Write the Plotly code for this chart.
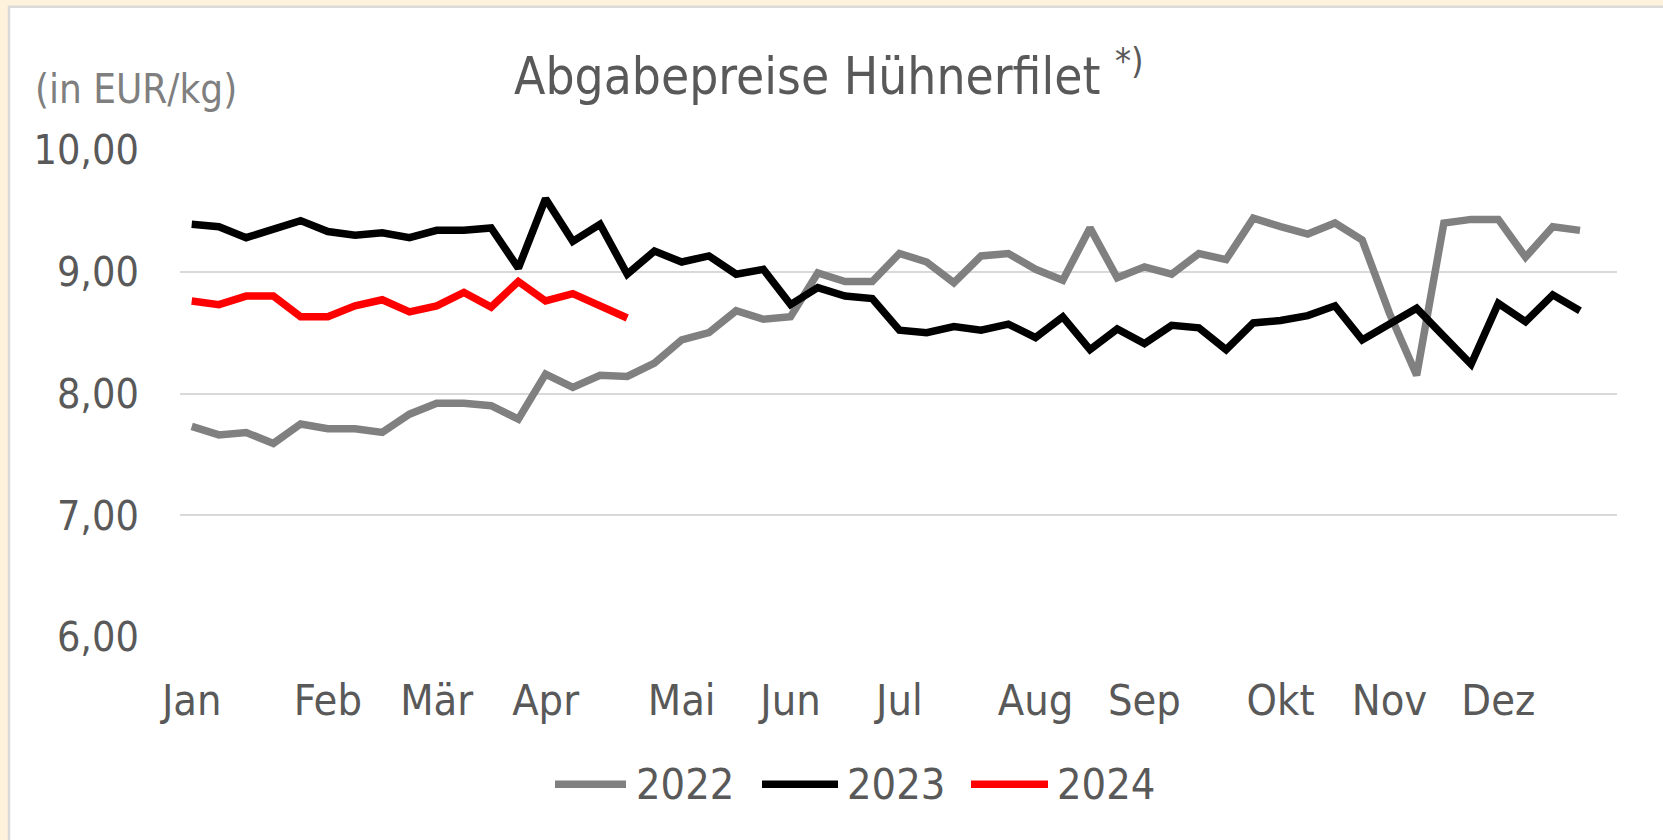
import plotly.graph_objects as go

weeks = list(range(1, 53))
month_tick_weeks = [1, 6, 10, 14, 19, 23, 27, 32, 36, 41, 45, 49]
month_labels = ["Jan", "Feb", "Mär", "Apr", "Mai", "Jun", "Jul", "Aug", "Sep", "Okt", "Nov", "Dez"]

prices_2022 = [7.73, 7.66, 7.68, 7.59, 7.75, 7.71, 7.71, 7.68, 7.83, 7.92, 7.92, 7.90, 7.79,
               8.16, 8.05, 8.15, 8.14, 8.25, 8.44, 8.50, 8.68, 8.61, 8.63, 8.99, 8.92, 8.92,
               9.15, 9.08, 8.91, 9.13, 9.15, 9.02, 8.93, 9.36, 8.95, 9.04, 8.98, 9.15, 9.10,
               9.44, 9.37, 9.31, 9.40, 9.26, 8.66, 8.15, 9.40, 9.43, 9.43, 9.12, 9.37, 9.34]
prices_2023 = [9.39, 9.37, 9.28, 9.35, 9.42, 9.33, 9.30, 9.32, 9.28, 9.34, 9.34, 9.36, 9.03,
               9.60, 9.25, 9.39, 8.98, 9.17, 9.08, 9.13, 8.98, 9.02, 8.73, 8.87, 8.80, 8.78,
               8.52, 8.50, 8.55, 8.52, 8.57, 8.46, 8.63, 8.36, 8.53, 8.41, 8.56, 8.54, 8.36,
               8.58, 8.60, 8.64, 8.72, 8.44, 8.57, 8.70, 8.47, 8.24, 8.74, 8.59, 8.81, 8.68]
prices_2024 = [8.76, 8.73, 8.80, 8.80, 8.63, 8.63, 8.72, 8.77, 8.67, 8.72, 8.83, 8.71, 8.92,
               8.76, 8.82, 8.72, 8.62]

series_names = ["2022", "2023", "2024"]
series_values = [prices_2022, prices_2023, prices_2024]
series_colors = ["#808080", "#000000", "#FF0000"]

FONT = "DejaVu Sans Condensed, Liberation Sans Narrow, sans-serif"
TXT = "#595959"

W, H = 1663, 840
L, R, T, B = 180, 1617, 149.5, 637.4

def px_x(p):
    return (p - L) / (R - L)

def px_y(p):
    return (B - p) / (B - T)

fig = go.Figure()
for name, vals, col in zip(series_names, series_values, series_colors):
    fig.add_trace(go.Scatter(
        x=weeks[:len(vals)], y=vals, name=name, mode="lines",
        line=dict(color=col, width=7.5, shape="linear"), showlegend=False,
    ))

# custom legend (long line samples like the reference)
legend_line_x = [(555, 626), (762, 838), (971, 1048)]
legend_text_x = [634, 845, 1055]
legend_y = 785
shapes = [dict(type="rect", xref="paper", yref="paper", layer="below",
               x0=px_x(9), x1=px_x(1700), y0=px_y(880), y1=px_y(6),
               fillcolor="#FFFFFF", line=dict(color="#D9D9D9", width=2.5))]
annotations = [
    dict(text="Abgabepreise Hühnerfilet <sup>*)</sup>", xref="paper", yref="paper",
         x=px_x(829), y=px_y(72), xanchor="center", yanchor="middle", showarrow=False,
         font=dict(size=51, color=TXT, family=FONT)),
    dict(text="(in EUR/kg)", xref="paper", yref="paper",
         x=px_x(33), y=px_y(88), xanchor="left", yanchor="middle", showarrow=False,
         font=dict(size=40, color="#7F7F7F", family=FONT)),
]
for name, col, (lx0, lx1), tx in zip(series_names, series_colors, legend_line_x, legend_text_x):
    shapes.append(dict(type="line", xref="paper", yref="paper",
                       x0=px_x(lx0), x1=px_x(lx1), y0=px_y(legend_y), y1=px_y(legend_y),
                       line=dict(color=col, width=7.5)))
    annotations.append(dict(text=name, xref="paper", yref="paper", x=px_x(tx), y=px_y(legend_y),
                            xanchor="left", yanchor="middle", showarrow=False,
                            font=dict(size=43, color=TXT, family=FONT)))

fig.update_layout(
    width=W, height=H,
    margin=dict(l=L, r=W - R, t=T, b=H - B, autoexpand=False),
    paper_bgcolor="#FFF2DC",
    plot_bgcolor="rgba(0,0,0,0)",
    separators=",.",
    font=dict(family=FONT, color=TXT, size=40),
    showlegend=False,
    xaxis=dict(range=[0.57, 53.36], tickmode="array", tickvals=month_tick_weeks,
               ticktext=month_labels, showgrid=False, zeroline=False, showline=False,
               ticks="", ticklabelstandoff=34, tickfont=dict(size=43, color=TXT)),
    yaxis=dict(range=[6, 10], dtick=1, tickformat=".2f", showgrid=True,
               gridcolor="#D9D9D9", gridwidth=2, zeroline=False, showline=False,
               ticks="", ticklabelstandoff=40, tickfont=dict(size=41, color=TXT)),
    shapes=shapes,
    annotations=annotations,
)

fig.write_html("out.html",
               config={"displayModeBar": False},
               post_script="document.body.style.margin='0px';"
                           "document.body.style.backgroundColor='#FFF2DC';")
